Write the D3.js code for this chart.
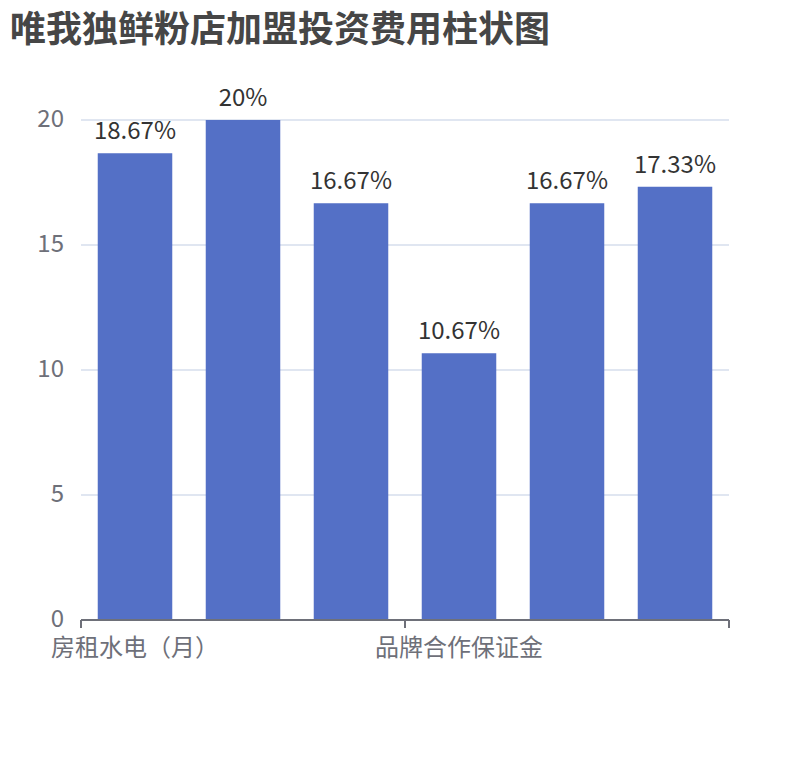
<!DOCTYPE html>
<html>
<head>
<meta charset="utf-8">
<script src="https://cdn.jsdelivr.net/npm/d3@7"></script>
<style>
  body { margin: 0; background: #fff; }
  text { font-family: "Noto Sans CJK SC", "Noto Sans", sans-serif; }
</style>
</head>
<body>
<script>
const title = '唯我独鲜粉店加盟投资费用柱状图';
const categories = ['房租水电（月）', '店面装修', '设备费用', '品牌合作保证金', '首批进货', '流动资金'];
const values = [18.67, 20, 16.67, 10.67, 16.67, 17.33];
const yTicks = [0, 5, 10, 15, 20];
const labelEvery = 3;

const width = 810, height = 760;
const margin = { top: 120, right: 81, bottom: 140, left: 81 };

const svg = d3.select('body').append('svg')
  .attr('width', width)
  .attr('height', height);

svg.append('text')
  .attr('x', 10)
  .attr('y', 42)
  .attr('fill', '#464646')
  .attr('font-size', 36)
  .attr('font-weight', 'bold')
  .text(title);

const x = d3.scaleBand()
  .domain(categories)
  .range([margin.left, width - margin.right])
  .paddingInner(0.31)
  .paddingOuter(0.155);

const y = d3.scaleLinear()
  .domain([0, 20])
  .range([height - margin.bottom, margin.top]);

// gridlines
svg.append('g')
  .selectAll('line')
  .data(yTicks.filter(d => d > 0))
  .join('line')
  .attr('x1', margin.left)
  .attr('x2', width - margin.right)
  .attr('y1', d => y(d))
  .attr('y2', d => y(d))
  .attr('stroke', '#E0E6F1')
  .attr('stroke-width', 2);

// y labels
svg.append('g')
  .selectAll('text')
  .data(yTicks)
  .join('text')
  .attr('x', 64)
  .attr('y', d => y(d) + 7)
  .attr('text-anchor', 'end')
  .attr('fill', '#6E7079')
  .attr('font-size', 24)
  .text(d => d);

// bars
svg.append('g')
  .selectAll('rect')
  .data(values)
  .join('rect')
  .attr('x', (d, i) => x(categories[i]))
  .attr('width', x.bandwidth())
  .attr('y', d => y(d))
  .attr('height', d => y(0) - y(d))
  .attr('fill', '#5470c6');

// bar labels
svg.append('g')
  .selectAll('text')
  .data(values)
  .join('text')
  .attr('x', (d, i) => x(categories[i]) + x.bandwidth() / 2)
  .attr('y', d => y(d) - 14)
  .attr('text-anchor', 'middle')
  .attr('fill', '#333')
  .attr('font-size', 24)
  .text(d => d + '%');

// x axis
const x0 = margin.left, x1 = width - margin.right, step = x.step();
svg.append('line')
  .attr('x1', x0).attr('x2', x1)
  .attr('y1', y(0)).attr('y2', y(0))
  .attr('stroke', '#6E7079')
  .attr('stroke-width', 2);

const tickPos = d3.range(0, categories.length + 1, labelEvery).map(i => x0 + i * step);
svg.append('g')
  .selectAll('line')
  .data(tickPos)
  .join('line')
  .attr('x1', d => d).attr('x2', d => d)
  .attr('y1', y(0)).attr('y2', y(0) + 8)
  .attr('stroke', '#6E7079')
  .attr('stroke-width', 2);

svg.append('g')
  .selectAll('text')
  .data(categories.filter((c, i) => i % labelEvery === 0))
  .join('text')
  .attr('x', d => x(d) + x.bandwidth() / 2)
  .attr('y', y(0) + 36)
  .attr('text-anchor', 'middle')
  .attr('fill', '#6E7079')
  .attr('font-size', 24)
  .text(d => d);
</script>
</body>
</html>
